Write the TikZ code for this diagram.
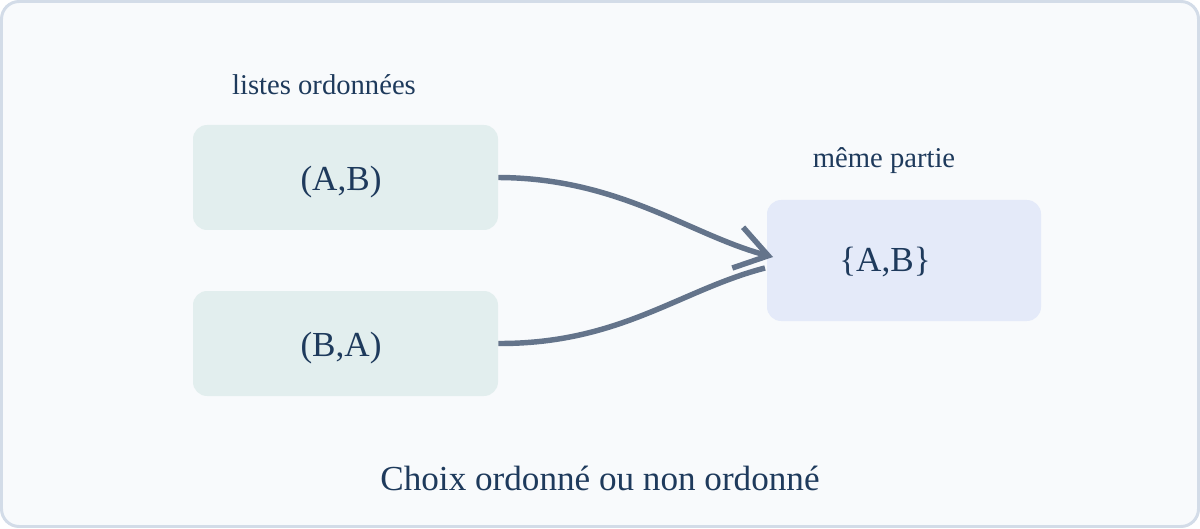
\documentclass[tikz,border=0pt]{standalone}
\usepackage{fontspec}
\setmainfont{Liberation Serif}
\usepackage{xcolor}
\usetikzlibrary{arrows.meta}

\definecolor{ink}{HTML}{1E3A5C}
\definecolor{wire}{HTML}{64748B}
\definecolor{tealbox}{HTML}{E2EEEE}
\definecolor{bluebox}{HTML}{E4EAF9}
\definecolor{paper}{HTML}{F8FAFC}
\definecolor{frame}{HTML}{D3DCE8}

\begin{document}
\begin{tikzpicture}[x=0.02cm, y=0.02cm,
    box/.style={rectangle, rounded corners=8pt, inner sep=0pt},
    item/.style={text=ink, inner sep=0pt, font=\fontsize{20}{23}\selectfont},
    tag/.style={text=ink, inner sep=0pt, font=\fontsize{16.3}{19}\selectfont},
    link/.style={wire, line width=3.1pt},
    tip/.style={-{Straight Barb[length=18pt, width=24pt, line width=3.1pt]}}]

    % canvas and frame
    \useasboundingbox (0,0) rectangle (1200,528);
    \draw[frame, fill=paper, line width=1.7pt, rounded corners=10pt]
        (1.5,1.5) rectangle (1198.5,526.5);

    % ordered lists
    \node[box, fill=tealbox, minimum width=305*0.02cm, minimum height=105*0.02cm]
        (ab) at (345.5,350.5) {};
    \node[box, fill=tealbox, minimum width=305*0.02cm, minimum height=105*0.02cm]
        (ba) at (345.5,184.5) {};
    \node[item] (abtext) at (341,346) {(A,B)};
    \node[item] (batext) at (341,180) {(B,A)};
    \node[tag] (lists) at (324,443) {listes ordonnées};

    % same part
    \node[box, fill=bluebox, minimum width=274*0.02cm, minimum height=121*0.02cm]
        (set) at (904,267.5) {};
    \node[item] (settext) at (885,266) {\{A,B\}};
    \node[tag] (part) at (884,367) {même partie};

    \coordinate (in1) at (773,271);
    \coordinate (in2) at (765,260);

    % connectors
    \draw[link, tip] (ab.east) .. controls (620,350) and (690,293) .. (in1);
    \draw[link] (ba.east) .. controls (620,184) and (680,238) .. (in2);

    % title
    \node[text=ink, font=\fontsize{20}{23}\selectfont] (title) at (600,50)
        {Choix ordonné ou non ordonné};

\end{tikzpicture}
\end{document}
